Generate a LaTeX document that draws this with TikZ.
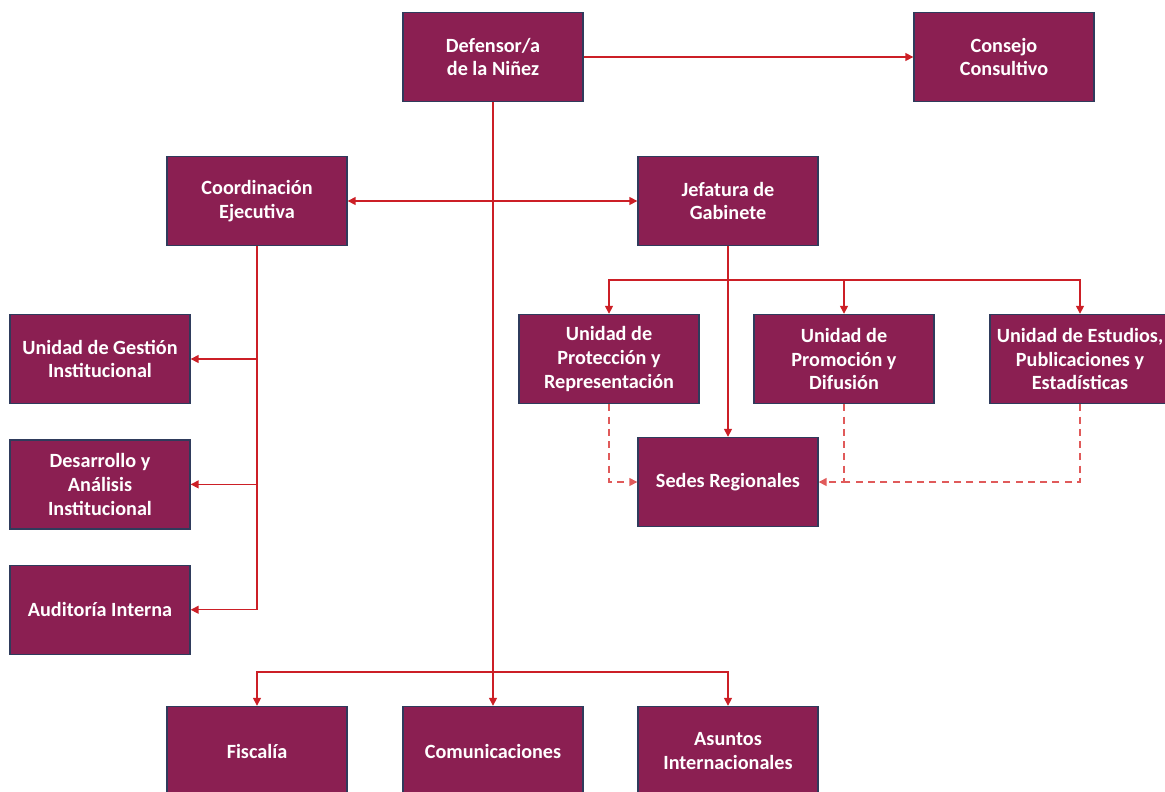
\documentclass[tikz,border=0pt]{standalone}
\usepackage{fontspec}
\setmainfont{Carlito}
\usetikzlibrary{arrows.meta}
\usetikzlibrary{positioning}
\definecolor{boxfill}{HTML}{8B1F52}
\definecolor{boxline}{HTML}{2F3B5C}
\definecolor{linkred}{HTML}{CC1F26}
\definecolor{dashred}{HTML}{E05A5A}

\begin{document}
\begin{tikzpicture}
  [x=0.02cm,y=-0.02cm,node distance=0.7cm and 0.7cm,
   unit node/.style={rectangle,fill=boxfill,draw=boxline,line width=0.8pt,minimum width=3.6cm,minimum height=1.78cm,align=center,text=white,font=\bfseries\fontsize{11.5}{13.6}\selectfont},
   link/.style={draw=linkred,line width=0.8pt,-{Triangle[length=4.5pt,width=4.5pt]}},
   dashlink/.style={draw=dashred,line width=0.8pt,dash pattern=on 4pt off 3pt,-{Triangle[length=4.5pt,width=4.5pt]}},
   dashline/.style={draw=dashred,line width=0.8pt,dash pattern=on 4pt off 3pt}]
  \useasboundingbox (0,0) rectangle (1165,791);
  \node[unit node] (Defensor)       at (493,57)  {Defensor/a\\de la Niñez};
  \node[unit node] (Consejo)        at (1004,57) {Consejo\\Consultivo};
  \node[unit node] (Coordinacion)   at (257,201) {Coordinación\\Ejecutiva};
  \node[unit node] (Jefatura)       at (728,201) {Jefatura de\\Gabinete};
  \node[unit node] (Gestion)        at (100,359) {Unidad de Gestión\\Institucional};
  \node[unit node] (Desarrollo)     [below= of Gestion]    {Desarrollo y\\Análisis\\Institucional};
  \node[unit node] (Auditoria)      [below= of Desarrollo] {Auditoría Interna};
  \node[unit node] (Proteccion)     at (609,359) {Unidad de\\Protección y\\Representación};
  \node[unit node] (Promocion)      at (844,359) {Unidad de\\Promoción y\\Difusión};
  \node[unit node] (Estudios)       at (1080,359) {Unidad de Estudios,\\Publicaciones y\\Estadísticas};
  \node[unit node] (Sedes)          at (728,482) {Sedes Regionales};
  \node[unit node] (Fiscalia)       at (257,751) {Fiscalía};
  \node[unit node] (Comunicaciones) at (493,751) {Comunicaciones};
  \node[unit node] (Asuntos)        at (728,751) {Asuntos\\Internacionales};
  \coordinate (lowbar) at (493,672);
  \coordinate (midbar) at (728,280);

  % top level
  \draw[link] (Defensor) -- (Consejo);
  \draw[link] (Defensor) -- (Comunicaciones);
  \draw[link] (lowbar) -| (Fiscalia);
  \draw[link] (lowbar) -| (Asuntos);
  \draw[link,{Triangle[length=4.5pt,width=4.5pt]}-{Triangle[length=4.5pt,width=4.5pt]}] (Coordinacion) -- (Jefatura);

  % coordinacion
  \draw[link] (Coordinacion) |- (Gestion);
  \draw[link] (Coordinacion) |- (Desarrollo);
  \draw[link] (Coordinacion) |- (Auditoria);

  % jefatura
  \draw[link] (Jefatura) -- (Sedes);
  \draw[link] (midbar) -| (Proteccion);
  \draw[link] (midbar) -| (Promocion);
  \draw[link] (midbar) -| (Estudios);
  \draw[dashlink] (Proteccion) |- (Sedes);
  \draw[dashlink] (Promocion) |- (Sedes);
  \draw[dashline] (Estudios) |- (Promocion |- Sedes);
\end{tikzpicture}
\end{document}
